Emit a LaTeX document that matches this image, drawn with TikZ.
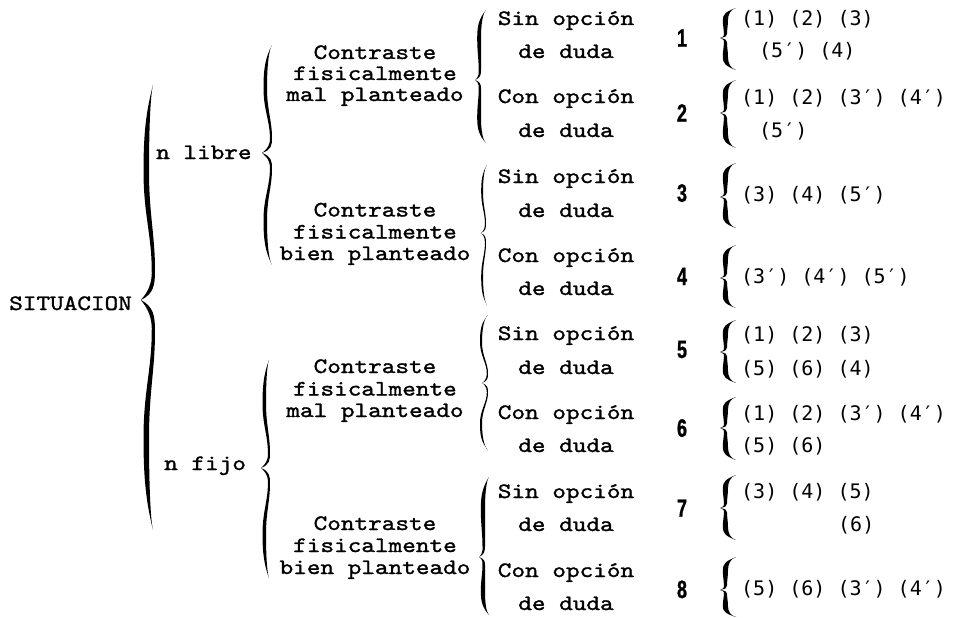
\documentclass[tikz,border=0pt]{standalone}
\usepackage{fontspec}
\newfontfamily\labfont[FakeStretch=1.18,FakeBold=1.3]{lmmono10-regular.otf}
\newfontfamily\listfont{DejaVu Sans Mono}
\newfontfamily\numfont[FakeStretch=0.72,FakeBold=1]{Liberation Sans Bold}
% half of a calligraphic brace: e a m t yend ytip w
\newcommand{\halfbr}[7]{%
 \fill[black] (#1,#5) .. controls ({#2-0.5*#7},{#5+0.12*(#6-#5)}) and ({#2-#7},{#5+0.22*(#6-#5)}) .. ({#2-#7},{#5+0.4*(#6-#5)})
  .. controls ({#2-#7},{#5+0.6*(#6-#5)}) and ({#3-0.6*#7},{#5+0.7*(#6-#5)}) .. ({#3-0.6*#7},{#5+0.86*(#6-#5)})
  .. controls ({#3-0.4*#7},{#5+0.95*(#6-#5)}) and ({#4+1},{#5+0.99*(#6-#5)}) .. (#4,#6)
  .. controls ({#3-0.2*#7},{#5+0.97*(#6-#5)}) and (#3,{#5+0.93*(#6-#5)}) .. (#3,{#5+0.86*(#6-#5)})
  .. controls (#3,{#5+0.7*(#6-#5)}) and (#2,{#5+0.6*(#6-#5)}) .. (#2,{#5+0.4*(#6-#5)})
  .. controls (#2,{#5+0.22*(#6-#5)}) and ({#2+0.3*(#1-#2)},{#5+0.05*(#6-#5)}) .. (#1,#5) -- cycle;}
% full brace: e a m t ytop ytip ybot w
\newcommand{\cbrace}[8]{\halfbr{#1}{#2}{#3}{#4}{#5}{#6}{#8}\halfbr{#1}{#2}{#3}{#4}{#7}{#6}{#8}}
\tikzset{
  lab/.style={font=\labfont\fontsize{22}{24}\selectfont, inner sep=0pt, anchor=base},
  labw/.style={lab, anchor=base west},
  lst/.style={font=\listfont\fontsize{20}{22}\selectfont, inner sep=0pt, anchor=base west},
  num/.style={font=\numfont\fontsize{25}{26}\selectfont, inner sep=0pt, anchor=base},
}
\begin{document}
\begin{tikzpicture}[x=1pt,y=-1pt]
\useasboundingbox[fill=white] (0,0) rectangle (962,618);
% left column
\node[labw] (sit) at (9,310) {SITUACION};
\node[labw] (nl) at (156,159) {n libre};
\node[labw] (nf) at (164,470) {n fijo};
% braces
\cbrace{153}{149}{155}{141}{85}{300}{530}{5.5}
\cbrace{272}{267}{272}{262}{45}{153}{265}{3.5}
\cbrace{269}{266}{270}{261}{360}{468}{578}{3.5}
% Contraste groups
\node[lab] (c1a) at (375,59) {Contraste};
\node[lab] (c1b) at (375,80) {fisicalmente};
\node[lab] (c1c) at (375,101) {mal planteado};
\node[lab] (c2a) at (375,216.5) {Contraste};
\node[lab] (c2b) at (375,238.5) {fisicalmente};
\node[lab] (c2c) at (375,260) {bien planteado};
\node[lab] (c3a) at (375,373) {Contraste};
\node[lab] (c3b) at (375,395.5) {fisicalmente};
\node[lab] (c3c) at (375,417) {mal planteado};
\node[lab] (c4a) at (375,530) {Contraste};
\node[lab] (c4b) at (375,552) {fisicalmente};
\node[lab] (c4c) at (375,574) {bien planteado};
% third level braces
\cbrace{486}{481}{481}{475}{10}{80}{143}{3.8}
\cbrace{487}{483}{486}{481}{165}{233}{305}{1.8}
\cbrace{488}{482}{488}{482}{315}{383}{450}{2}
\cbrace{489}{485}{485}{479}{477}{557}{615}{4.2}
% Sin / Con
\foreach \y/\t [count=\i] in {25/Sin opción,58/de duda,103/Con opción,137/de duda,183/Sin opción,217/de duda,262/Con opción,295/de duda,340/Sin opción,374/de duda,419/Con opción,452/de duda,498/Sin opción,531/de duda,577/Con opción,610/de duda}
  \node[lab] (o\i) at (566,\y) {\t};
% numbers
\foreach \y [count=\i] in {46.7,121.7,201.7,285,358,436.7,516.7,598}
  \node[num] (n\i) at (682,\y) {\i};
% right braces
\foreach \a/\b/\c in {8/38/70,80/113/148,163/197/228,245/278/308,320/352/383,397/428/460,475/508/540,557/590/617}
  \cbrace{736}{728}{727}{720}{\a}{\b}{\c}{5.2};
% lists
\node[lst] (l1a) at (741,26) {(1) (2) (3)};
\node[lst] (l1b) at (759,58) {(5′)  (4)};
\node[lst] (l2a) at (741,104) {(1) (2) (3′) (4′)};
\node[lst] (l2b) at (759,138) {(5′)};
\node[lst] (l3) at (741,201) {(3) (4) (5′)};
\node[lst] (l4) at (741,283) {(3′) (4′) (5′)};
\node[lst] (l5a) at (741,341.7) {(1) (2) (3)};
\node[lst] (l5b) at (741,375) {(5) (6) (4)};
\node[lst] (l6a) at (741,420) {(1) (2) (3′) (4′)};
\node[lst] (l6b) at (741,452) {(5) (6)};
\node[lst] (l7a) at (741,498) {(3) (4) (5)};
\node[lst] (l7b) at (838,531) {(6)};
\node[lst] (l8) at (741,595) {(5) (6) (3′) (4′)};
\end{tikzpicture}
\end{document}
